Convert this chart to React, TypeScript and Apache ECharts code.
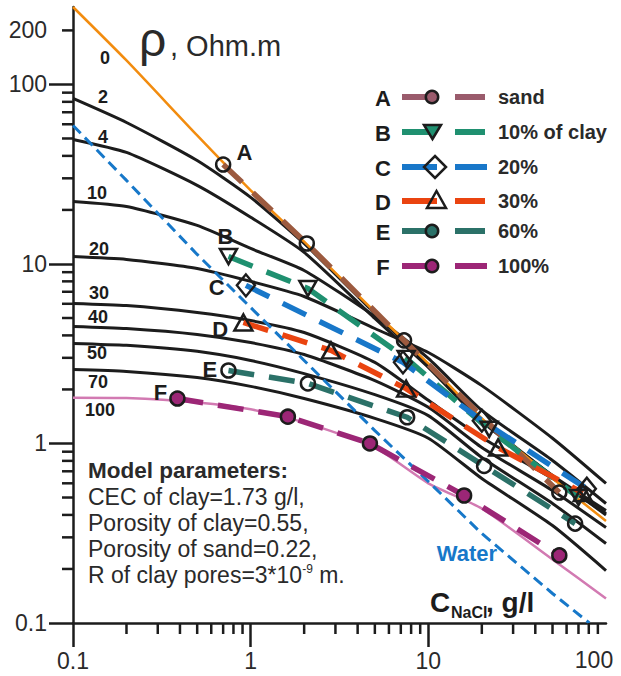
import React, { useEffect, useRef } from 'react';
import * as echarts from 'echarts';

// ---------- data ----------
const concGrid = [0.1, 0.2, 0.5, 1, 2, 5, 10, 20, 50, 100];
const rhoClay0 = [270, 136, 52, 25.7, 13.3, 5.4, 2.79, 1.38, 0.64, 0.37];
const rhoClay2 = [83.6, 61.4, 37.7, 23.5, 13.0, 5.3, 2.72, 1.36, 0.66, 0.40];
const rhoClay4 = [49.4, 41.8, 27.4, 18.2, 11.6, 4.97, 2.65, 1.33, 0.663, 0.423];
const rhoClay10 = [22.3, 20.9, 16.4, 12.2, 9.2, 5.1, 2.98, 1.53, 0.804, 0.463];
const rhoClay20 = [11.0, 10.6, 9.44, 8.0, 6.59, 4.37, 3.21, 2.1, 1.07, 0.599];
const rhoClay30 = [6.03, 5.87, 5.37, 4.84, 4.15, 2.83, 1.74, 1.08, 0.638, 0.407];
const rhoClay40 = [4.49, 4.37, 4.05, 3.65, 3.13, 2.24, 1.59, 0.95, 0.547, 0.34];
const rhoClay50 = [3.61, 3.52, 3.26, 2.9, 2.45, 1.87, 1.43, 0.836, 0.463, 0.277];
const rhoClay70 = [2.58, 2.52, 2.33, 2.08, 1.78, 1.38, 1.07, 0.638, 0.349, 0.196];
const rhoClay100 = [1.8, 1.79, 1.69, 1.55, 1.31, 0.95, 0.6, 0.434, 0.226, 0.137];
const curveLabels = ['0', '2', '4', '10', '20', '30', '40', '50', '70', '100'];

const waterConc = [0.1, 0.2, 0.5, 1, 2, 5, 10, 20, 50, 80.6];
const waterRho = [59.1, 29.2, 11.3, 5.72, 2.9, 1.18, 0.614, 0.315, 0.146, 0.1];

const sandConc = [0.7, 2.07, 7.3, 54.6];
const sandRho = [35.8, 13.0, 3.75, 0.533];
const clay10Conc = [0.75, 2.1, 7.5, 22, 70];
const clay10Rho = [11.0, 7.3, 2.98, 1.2, 0.5];
const clay20Conc = [0.94, 7.2, 20, 78];
const clay20Rho = [7.6, 2.83, 1.34, 0.56];
const clay30Conc = [0.91, 2.83, 7.5, 24.7, 74];
const clay30Rho = [4.72, 3.3, 2.02, 0.95, 0.53];
const clay60Conc = [0.75, 2.1, 7.6, 20.6, 67];
const clay60Rho = [2.55, 2.16, 1.4, 0.75, 0.358];
const clay100Conc = [0.387, 1.62, 4.69, 15.9, 54.6];
const clay100Rho = [1.78, 1.41, 1.0, 0.513, 0.238];

const legendLetters = ['A', 'B', 'C', 'D', 'E', 'F'];
const legendNames = ['sand', '10% of clay', '20%', '30%', '60%', '100%'];

const xMinorTicks = [0.2, 0.3, 0.4, 0.5, 0.6, 0.7, 0.8, 0.9, 2, 3, 4, 5, 6, 7, 8, 9, 20, 30, 40, 50, 60, 70, 80, 90];
const yMinorTicks = [0.2, 0.3, 0.4, 0.5, 0.6, 0.7, 0.8, 0.9, 2, 3, 4, 5, 6, 7, 8, 9, 20, 30, 40, 50, 60, 70, 80, 90, 200];
const yExtraLabel = [200];
const xLastLabel = [100];

const modelLines = [
  'Model parameters:',
  'CEC of clay=1.73 g/l,',
  'Porosity of clay=0.55,',
  'Porosity of sand=0.22,',
];

// ---------- styling ----------
const FONT = '"Liberation Sans", Arial, Helvetica, sans-serif';
const INK = '#1c1c1c';
const TXT = '#2a2a2a';

const zip = (xs: number[], ys: number[]) => xs.map((x, i) => [x, ys[i]]);

function buildOption() {
  const curves = [rhoClay0, rhoClay2, rhoClay4, rhoClay10, rhoClay20, rhoClay30, rhoClay40, rhoClay50, rhoClay70, rhoClay100];
  const curveColors = ['#f28c0f', INK, INK, INK, INK, INK, INK, INK, INK, '#d27ab2'];
  const curveWidths = [2.5, 3, 3, 3, 3, 3, 3, 3, 3, 2.5];

  const series: any[] = curves.map((c, i) => ({
    type: 'line',
    name: 'c' + curveLabels[i],
    data: zip(concGrid, c),
    symbol: 'none',
    smooth: 0.2,
    lineStyle: { color: curveColors[i], width: curveWidths[i], join: 'round' },
    z: i === 0 || i === 9 ? 3 : 2,
    silent: true,
  }));

  series.push({
    type: 'line',
    name: 'water',
    data: zip(waterConc, waterRho),
    symbol: 'none',
    smooth: false,
    lineStyle: { color: '#1778c9', width: 3, type: [11, 6] },
    z: 3,
    silent: true,
  });

  const markerDefs = [
    { xs: sandConc, ys: sandRho, color: '#9c5a3f', symbol: 'circle', size: 14, rot: 0, fill: 'rgba(255,255,255,0)', pos: 'right', off: [0, -12] },
    { xs: clay10Conc, ys: clay10Rho, color: '#1f9070', symbol: 'triangle', size: [17, 15], rot: 180, fill: 'rgba(255,255,255,0)', pos: 'top', off: [-3, 5] },
    { xs: clay20Conc, ys: clay20Rho, color: '#1877c9', symbol: 'diamond', size: [18, 22], rot: 0, fill: 'rgba(255,255,255,0)', pos: 'left', off: [-6, 2] },
    { xs: clay30Conc, ys: clay30Rho, color: '#ea4410', symbol: 'triangle', size: [18, 16], rot: 0, fill: 'rgba(255,255,255,0)', pos: 'left', off: [0, 7] },
    { xs: clay60Conc, ys: clay60Rho, color: '#2b7168', symbol: 'circle', size: 14, rot: 0, fill: 'rgba(255,255,255,0)', pos: 'left', off: [2, -1] },
    { xs: clay100Conc, ys: clay100Rho, color: '#9c2676', symbol: 'circle', size: 14, rot: 0, fill: '#9c2676', pos: 'left', off: [3, -6] },
  ];

  markerDefs.forEach((m, k) => {
    series.push({
      type: 'line',
      name: legendLetters[k],
      data: m.xs.map((x, i) =>
        i === 0
          ? {
              value: [x, m.ys[i]],
              label: {
                show: true,
                formatter: legendLetters[k],
                position: m.pos,
                offset: m.off,
                fontSize: 22,
                fontWeight: 'bold',
                color: INK,
                fontFamily: FONT,
              },
            }
          : [x, m.ys[i]]
      ),
      symbol: m.symbol,
      symbolSize: m.size,
      symbolRotate: m.rot,
      showAllSymbol: true,
      smooth: false,
      lineStyle: { color: m.color, width: 5.5, type: [26, 15], cap: 'butt' },
      itemStyle: { color: m.fill, borderColor: INK, borderWidth: 2.5 },
      z: 4,
      silent: true,
    });
  });

  // minor ticks drawn through the axes' own scales
  series.push({
    type: 'custom',
    name: 'xminor',
    data: xMinorTicks.map((v) => [v, 0.1]),
    clip: false,
    silent: true,
    z: 6,
    renderItem: (_p: any, api: any) => {
      const p = api.coord([api.value(0), api.value(1)]);
      return { type: 'line', shape: { x1: p[0], y1: p[1], x2: p[0], y2: p[1] + 11 }, style: { stroke: INK, lineWidth: 2.5 } };
    },
  });
  series.push({
    type: 'custom',
    name: 'yminor',
    data: yMinorTicks.map((v) => [0.1, v]),
    clip: false,
    silent: true,
    z: 6,
    renderItem: (_p: any, api: any) => {
      const p = api.coord([api.value(0), api.value(1)]);
      return { type: 'line', shape: { x1: p[0] - 11, y1: p[1], x2: p[0], y2: p[1] }, style: { stroke: INK, lineWidth: 2.5 } };
    },
  });
  series.push({
    type: 'custom',
    name: 'ylabel200',
    data: yExtraLabel.map((v) => [0.1, v]),
    clip: false,
    silent: true,
    z: 6,
    renderItem: (_p: any, api: any) => {
      const p = api.coord([api.value(0), api.value(1)]);
      return {
        type: 'text',
        x: p[0] - 26,
        y: p[1],
        style: { text: String(api.value(1)), align: 'right', verticalAlign: 'middle', fontSize: 23, fontFamily: FONT, fill: TXT },
      };
    },
  });
  series.push({
    type: 'custom',
    name: 'xlabel100',
    data: xLastLabel.map((v) => [v, 0.1]),
    clip: false,
    silent: true,
    z: 6,
    renderItem: (_p: any, api: any) => {
      const p = api.coord([api.value(0), api.value(1)]);
      return {
        type: 'text',
        x: p[0] - 12,
        y: p[1] + 37,
        style: { text: String(api.value(0)), align: 'center', verticalAlign: 'middle', fontSize: 23, fontFamily: FONT, fill: TXT },
      };
    },
  });

  // ---------- graphic texts & legend ----------
  const graphic: any[] = [];
  const txt = (text: string, x: number, y: number, size: number, bold: boolean, extra: any = {}) => ({
    type: 'text',
    x,
    y,
    z: 100,
    silent: true,
    style: {
      text,
      fontSize: size,
      fontWeight: bold ? 'bold' : 'normal',
      fontFamily: FONT,
      fill: TXT,
      align: 'left',
      verticalAlign: 'middle',
      ...extra,
    },
  });

  graphic.push(txt('ρ', 139, 39, 48, false));
  graphic.push(txt(', Ohm.m', 170, 46, 29, false));

  const curveLabelPos = [
    [105, 58], [103, 97], [103, 137], [97, 193], [99, 249], [99, 293], [98, 317], [97, 353], [98, 382], [100, 410],
  ];
  curveLabels.forEach((l, i) => {
    graphic.push(txt(l, curveLabelPos[i][0], curveLabelPos[i][1], 18, true, { align: 'center', fill: INK }));
  });

  const rowY = [97, 132, 167, 201, 231, 266];
  const legendColors = ['#9a5b6c', '#1f9070', '#1877c9', '#ea4410', '#2b7168', '#9c2676'];
  rowY.forEach((y, i) => {
    const col = legendColors[i];
    graphic.push(txt(legendLetters[i], 383, y + 1, 22, true, { align: 'center', fill: INK }));
    graphic.push({ type: 'line', z: 99, silent: true, shape: { x1: 402, y1: y, x2: i === 2 || i === 3 ? 437 : 432, y2: y }, style: { stroke: col, lineWidth: 6 } });
    graphic.push({ type: 'line', z: 99, silent: true, shape: { x1: 455, y1: y, x2: i === 2 || i === 5 ? 487 : 485, y2: y }, style: { stroke: col, lineWidth: 6 } });
    const mk = { stroke: INK, lineWidth: 2.5 };
    if (i === 0 || i === 4 || i === 5) {
      graphic.push({ type: 'circle', z: 100, silent: true, shape: { cx: 432, cy: y, r: 6.2 }, style: { fill: col, ...mk } });
    } else if (i === 1) {
      graphic.push({ type: 'polygon', z: 100, silent: true, shape: { points: [[424, y - 7], [441, y - 7], [432.5, y + 7]] }, style: { fill: col, ...mk } });
    } else if (i === 2) {
      graphic.push({ type: 'polygon', z: 100, silent: true, shape: { points: [[435, y - 11], [446, y], [435, y + 11], [424, y]] }, style: { fill: 'none', ...mk } });
    } else {
      graphic.push({ type: 'polygon', z: 100, silent: true, shape: { points: [[427, y + 7], [446, y + 7], [436.5, y - 10]] }, style: { fill: 'none', ...mk } });
    }
    graphic.push(txt(legendNames[i], 498, y, 20, true, { fill: TXT }));
  });

  graphic.push(txt('Water', 467, 553, 22, true, { align: 'center', fill: '#1778c9' }));

  graphic.push(txt('C', 430, 602, 28, true, { fill: INK }));
  graphic.push(txt('NaCl', 451, 612, 16, true, { fill: INK }));
  graphic.push(txt(', g/l', 486, 602, 28, true, { fill: INK }));

  const modelY = [470, 497, 523, 549, 575];
  modelLines.forEach((l, i) => graphic.push(txt(l, 88, modelY[i], i === 0 ? 22.5 : 23, i === 0)));
  graphic.push(
    txt('R of clay pores=3*10{s|-9} m.', 88, modelY[4], 23, false, {
      rich: { s: { fontSize: 12, padding: [0, 0, 12, 0], fontFamily: FONT, fill: TXT } },
    })
  );

  const axisCommon = {
    type: 'log',
    logBase: 10,
    axisLine: { show: true, onZero: false, lineStyle: { color: INK, width: 2.5 } },
    axisTick: { show: true, length: 24, lineStyle: { color: INK, width: 2.5 } },
    minorTick: { show: false },
    splitLine: { show: false },
    minorSplitLine: { show: false },
  };

  return {
    animation: false,
    backgroundColor: '#ffffff',
    grid: { left: 73, top: 7, width: 533, height: 616 },
    xAxis: {
      ...axisCommon,
      min: 0.1,
      max: 100,
      axisLabel: { fontSize: 23, color: TXT, fontFamily: FONT, margin: 26, showMaxLabel: false },
    },
    yAxis: {
      ...axisCommon,
      min: 0.1,
      max: 270,
      axisLabel: { fontSize: 23, color: TXT, fontFamily: FONT, margin: 26, showMaxLabel: false },
    },
    series,
    graphic,
  };
}

export default function App() {
  const ref = useRef<HTMLDivElement>(null);
  useEffect(() => {
    if (!ref.current) return;
    const chart = echarts.init(ref.current, null, { renderer: 'svg' });
    chart.setOption(buildOption() as any);
    return () => chart.dispose();
  }, []);
  return (
    <div
      ref={ref}
      style={{ position: 'absolute', left: 0, top: 0, width: 621, height: 676, background: '#fff' }}
    />
  );
}
